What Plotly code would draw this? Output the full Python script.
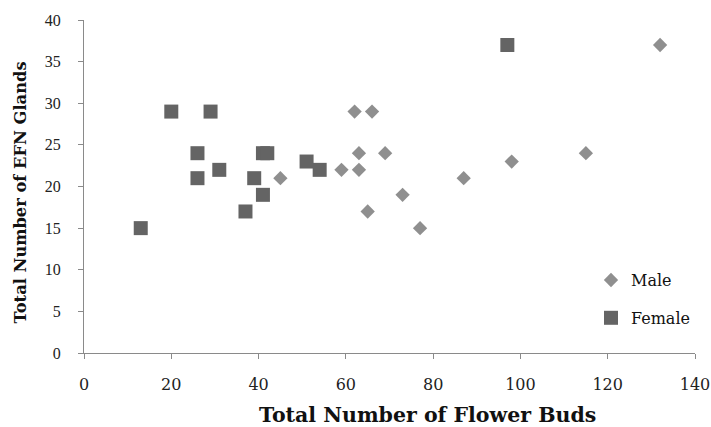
import plotly.graph_objects as go

male_x = [45, 59, 62, 66, 63, 63, 69, 65, 73, 77, 87, 98, 115, 132]
male_y = [21, 22, 29, 29, 24, 22, 24, 17, 19, 15, 21, 23, 24, 37]

female_x = [13, 20, 29, 26, 26, 31, 37, 39, 41, 41, 42, 51, 54, 97]
female_y = [15, 29, 29, 24, 21, 22, 17, 21, 19, 24, 24, 23, 22, 37]

x_ticks = [0, 20, 40, 60, 80, 100, 120, 140]
y_ticks = [0, 5, 10, 15, 20, 25, 30, 35, 40]

x_title = "Total Number of Flower Buds"
y_title = "Total Number of EFN Glands"

font_family = "DejaVu Serif"

fig = go.Figure()
fig.add_trace(go.Scatter(
    x=male_x, y=male_y, mode="markers", name="Male", legendgroup="m",
    marker=dict(symbol="diamond", size=11, color="#8f8f8f", line=dict(width=0)),
))
fig.add_trace(go.Scatter(
    x=female_x, y=female_y, mode="markers", name="Female", legendgroup="f",
    marker=dict(symbol="square", size=14, color="#646464", line=dict(width=0)),
))

fig.update_layout(
    width=711, height=427,
    margin=dict(l=84, r=16, t=20, b=74),
    paper_bgcolor="white", plot_bgcolor="white",
    font=dict(family=font_family, size=16, color="#222222"),
    showlegend=True,
    legend=dict(
        x=1.0, y=0.27, xanchor="right", yanchor="top",
        font=dict(family=font_family, size=16, color="#111111"),
        bgcolor="rgba(0,0,0,0)", itemwidth=30, tracegroupgap=14,
    ),
    xaxis=dict(
        range=[0, 140], tickvals=x_ticks, ticktext=[str(v) for v in x_ticks],
        showgrid=False, zeroline=False, showline=True, linecolor="#8a8a8a", linewidth=1,
        ticks="outside", ticklen=5, tickcolor="#8a8a8a", automargin=False,
        ticklabelstandoff=12, ticklabeloverflow="allow",
        tickfont=dict(family=font_family, size=16, color="#222222"),
    ),
    yaxis=dict(
        range=[0, 40], tickvals=y_ticks, ticktext=[str(v) for v in y_ticks],
        showgrid=False, zeroline=False, showline=True, linecolor="#8a8a8a", linewidth=1,
        ticks="outside", ticklen=5, tickcolor="#8a8a8a", automargin=False,
        ticklabelstandoff=14, ticklabeloverflow="allow",
        tickfont=dict(family="Liberation Serif", size=16, color="#222222"),
    ),
    annotations=[
        dict(
            text="<b>" + x_title + "</b>", xref="paper", yref="paper",
            x=0.562, y=0, xanchor="center", yanchor="middle", yshift=-62,
            showarrow=False, font=dict(family=font_family, size=20.5, color="#111111"),
        ),
        dict(
            text="<b>" + y_title + "</b>", xref="paper", yref="paper",
            x=0, y=0.482, xanchor="center", yanchor="middle", xshift=-64,
            textangle=-90, showarrow=False,
            font=dict(family=font_family, size=16.3, color="#111111"),
        ),
    ],
)

fig.write_html(
    "out.html",
    config={"displayModeBar": False},
    post_script="document.body.style.margin='0';document.body.style.overflow='hidden';",
)
